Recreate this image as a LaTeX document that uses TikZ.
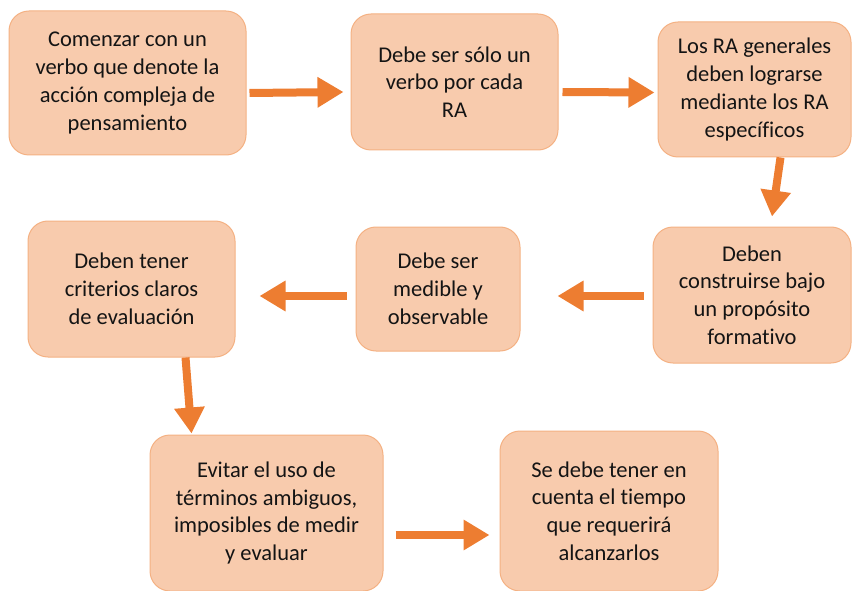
\documentclass[tikz,border=0pt]{standalone}
\usepackage{fontspec}
\setmainfont{Carlito}[Ligatures=NoCommon]
\usetikzlibrary{arrows.meta}
\definecolor{boxfill}{HTML}{F8CBAD}
\definecolor{boxline}{HTML}{F4B183}
\definecolor{arr}{HTML}{ED7D31}
\definecolor{txt}{HTML}{141414}
\begin{document}
\begin{tikzpicture}[x=1pt,y=-1pt,
  box/.style={draw=boxline, line width=1pt, fill=boxfill, rounded corners=20pt,
    align=center, inner sep=0pt, text=txt,
    font=\fontsize{22.5}{27.8}\selectfont},
  flow/.style={draw=arr, line width=8pt, -{Triangle[length=26pt,width=29pt]}}]
\useasboundingbox (0,0) rectangle (852,591);
\node[box, minimum width=237pt, minimum height=144pt] (n1) at (127.5,83)
  {Comenzar con un\\verbo que denote la\\acción compleja de\\pensamiento};
\node[box, minimum width=207pt, minimum height=136pt] (n2) at (454.5,82)
  {Debe ser sólo un\\verbo por cada\\RA};
\node[box, minimum width=193pt, minimum height=135pt] (n3) at (754.5,89.5)
  {Los RA generales\\deben lograrse\\mediante los RA\\específicos};
\node[box, minimum width=198pt, minimum height=136pt] (n4) at (752,295)
  {Deben\\construirse bajo\\un propósito\\formativo};
\node[box, minimum width=164pt, minimum height=124pt] (n5) at (438,289)
  {Debe ser\\medible y\\observable};
\node[box, minimum width=207pt, minimum height=136pt] (n6) at (131.5,289)
  {Deben tener\\criterios claros\\de evaluación};
\node[box, minimum width=233pt, minimum height=156pt] (n7) at (266.5,513)
  {Evitar el uso de\\términos ambiguos,\\imposibles de medir\\y evaluar};
\node[box, minimum width=218pt, minimum height=160pt] (n8) at (609,511)
  {Se debe tener en\\cuenta el tiempo\\que requerirá\\alcanzarlos};
% arrow end points
\coordinate (a1s) at ([xshift=3pt,yshift=-10pt]n1.east);
\coordinate (a1e) at ([xshift=-7pt,yshift=-10pt]n2.west);
\coordinate (a2s) at ([xshift=4pt,yshift=-10pt]n2.east);
\coordinate (a2e) at ([xshift=-3pt,yshift=-3pt]n3.west);
\coordinate (a3s) at ([xshift=26pt]n3.south);
\coordinate (a3e) at ([xshift=20pt,yshift=10pt]n4.north);
\coordinate (a4s) at ([xshift=-9pt,yshift=-1pt]n4.west);
\coordinate (a4e) at ([xshift=37pt,yshift=-7pt]n5.west -| n5.east);
\coordinate (a5s) at ([xshift=-9pt,yshift=-7pt]n5.west);
\coordinate (a5e) at ([xshift=24pt,yshift=-7pt]n6.east);
\coordinate (a6s) at ([xshift=54pt]n6.south);
\coordinate (a6e) at ([xshift=-75pt,yshift=1pt]n7.north);
\coordinate (a7s) at ([xshift=12pt,yshift=-22pt]n7.east);
\coordinate (a7e) at ([xshift=-10pt,yshift=-24pt]n8.west);
\draw[flow] (a1s) -- (a1e);
\draw[flow] (a2s) -- (a2e);
\draw[flow] (a3s) -- (a3e);
\draw[flow] (a4s) -- (a4e);
\draw[flow] (a5s) -- (a5e);
\draw[flow] (a6s) -- (a6e);
\draw[flow] (a7s) -- (a7e);
\end{tikzpicture}
\end{document}
